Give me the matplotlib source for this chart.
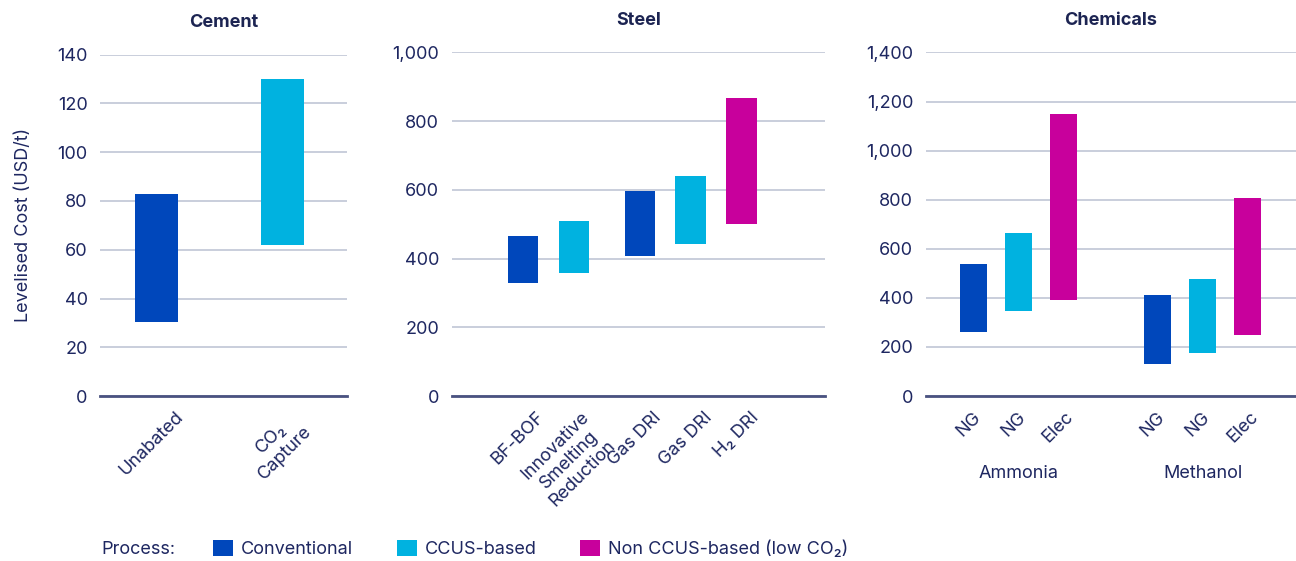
import matplotlib
matplotlib.use("Agg")
import matplotlib.pyplot as plt
from matplotlib.patches import Patch
from matplotlib.ticker import FuncFormatter, MultipleLocator
from matplotlib.transforms import ScaledTranslation

plt.rcParams["font.family"] = ["Inter", "DejaVu Sans"]

# Process types and their colours
processes = ["Conventional", "CCUS-based", "Non CCUS-based (low CO₂)"]
process_colors = ["#0047bb", "#00b2e0", "#c8009c"]

# Cement
cement_labels = ["Unabated", "CO₂\nCapture"]
cement_low = [30.5, 62]
cement_high = [83, 130]
cement_proc = [0, 1]

# Steel
steel_labels = ["BF-BOF", "Innovative\nSmelting\nReduction", "Gas DRI", "Gas DRI", "H₂ DRI"]
steel_low = [330, 358, 407, 442, 500]
steel_high = [465, 509, 596, 640, 867]
steel_proc = [0, 1, 0, 1, 2]

# Chemicals
chem_labels = ["NG", "NG", "Elec", "NG", "NG", "Elec"]
chem_low = [260, 345, 390, 130, 175, 250]
chem_high = [540, 665, 1150, 410, 475, 805]
chem_proc = [0, 1, 2, 0, 1, 2]
chem_groups = ["Ammonia", "Methanol"]

TEXT = "#1e2761"
GRID = "#c9cedc"
ZERO = "#4a5280"
FS = 13

fig = plt.figure(figsize=(12.96, 5.61), dpi=100)
shift = ScaledTranslation(-5 / 100, 0, fig.dpi_scale_trans)


def panel(rect, title, pos, low, high, proc, labels, width, xlim, ylim, step):
    ax = fig.add_axes(rect)
    heights = [h - l for l, h in zip(low, high)]
    ax.bar(pos, heights, bottom=low, width=width,
           color=[process_colors[p] for p in proc], zorder=3)
    ax.set_xlim(*xlim)
    ax.set_ylim(*ylim)
    ax.yaxis.set_major_locator(MultipleLocator(step))
    ax.yaxis.set_major_formatter(FuncFormatter(lambda v, _: f"{v:,.0f}"))
    ax.grid(axis="y", color=GRID, linewidth=1.4, zorder=0)
    ax.axhline(0, color=ZERO, linewidth=2.0, zorder=4, clip_on=False)
    for s in ax.spines.values():
        s.set_visible(False)
    ax.tick_params(axis="both", length=0, colors=TEXT, labelsize=FS)
    ax.tick_params(axis="y", pad=9)
    ax.set_xticks(pos)
    ax.set_xticklabels(labels, rotation=45, ha="center", va="top",
                       multialignment="center", linespacing=1.2)
    ax.tick_params(axis="x", pad=9)
    for t in ax.get_xticklabels():
        t.set_transform(t.get_transform() + shift)
    ax.set_title(title, fontsize=13, fontweight="bold", color="#1c2452", pad=20)
    return ax


ax1 = panel([0.0772, 0.294, 0.1906, 0.6085], "Cement", [0, 1],
            cement_low, cement_high, cement_proc, cement_labels,
            0.34, (-0.448, 1.512), (0, 140), 20)
ax1.set_ylabel("Levelised Cost (USD/t)", color=TEXT, fontsize=FS, labelpad=18)

ax2 = panel([0.3485, 0.294, 0.288, 0.6125], "Steel", [0, 1, 2.3, 3.3, 4.3],
            steel_low, steel_high, steel_proc, steel_labels,
            0.6, (-1.405, 5.944), (0, 1000), 200)

chem_pos = [0, 1, 2, 4.1, 5.1, 6.1]
ax3 = panel([0.7143, 0.294, 0.2857, 0.6125], "Chemicals", chem_pos,
            chem_low, chem_high, chem_proc, chem_labels,
            0.6, (-1.062, 7.178), (0, 1400), 200)
for g, name in enumerate(chem_groups):
    cx = sum(chem_pos[g * 3:g * 3 + 3]) / 3
    ax3.text(cx, -0.225, name, transform=ax3.get_xaxis_transform(),
             ha="center", va="center", color=TEXT, fontsize=FS)

# Legend
fig.text(101 / 1296, 1 - 549 / 561, "Process:", color=TEXT, fontsize=FS,
         ha="left", va="center")
handles = [Patch(facecolor=c, edgecolor="none", label=l)
           for c, l in zip(process_colors, processes)]
leg = fig.legend(handles=handles, loc="center left",
                 bbox_to_anchor=(197 / 1296, 1 - 549 / 561), ncol=3,
                 frameon=False, fontsize=FS, handlelength=1.1,
                 handleheight=1.05, handletextpad=0.45, columnspacing=2.4,
                 labelcolor=TEXT)

fig.savefig("out.png", dpi=100)
